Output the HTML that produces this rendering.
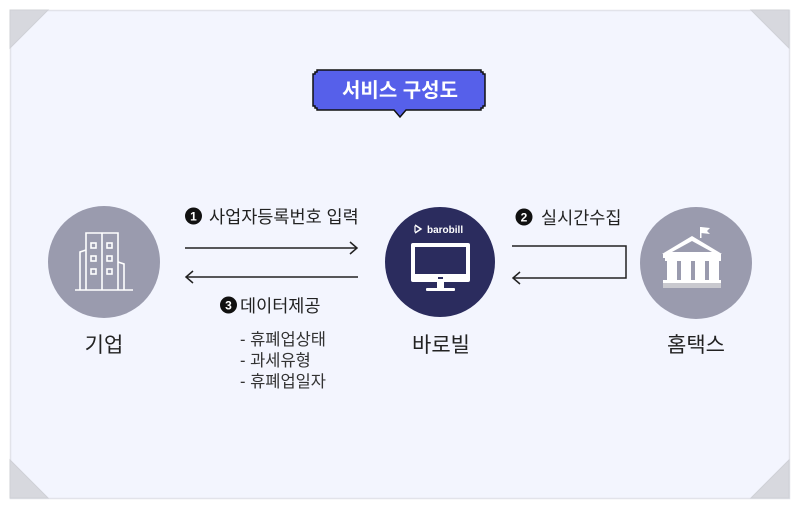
<!DOCTYPE html>
<html><head><meta charset="utf-8"><style>
html,body{margin:0;padding:0;background:#fff;}
svg{display:block;}
text{font-family:"Liberation Sans","Noto Sans CJK KR",sans-serif;}
</style></head><body>
<svg width="800" height="509" viewBox="0 0 800 509" xmlns="http://www.w3.org/2000/svg">
<rect x="0" y="0" width="800" height="509" fill="#ffffff"/>
<rect x="10.5" y="10.5" width="779" height="488" fill="#f3f5fe" stroke="#e2e3ea" stroke-width="1.5"/>
<!-- corners -->
<polygon points="10,10 48,10 10,48" fill="#d7d8de" stroke="#cfd0d6"/>
<polygon points="751,10 789,10 789,48" fill="#d7d8de" stroke="#cfd0d6"/>
<polygon points="10,460 10,498 48,498" fill="#d7d8de" stroke="#cfd0d6"/>
<polygon points="789,460 789,498 751,498" fill="#d7d8de" stroke="#cfd0d6"/>

<!-- title badge -->
<path d="M317,70 H481 V72 H483 V74 H485 V106 H483 V108 H481 V110 H406 L400,117 L394,110 H317 V108 H315 V106 H313 V74 H315 V72 H317 Z" fill="#5660ea" stroke="#111" stroke-width="1.5"/>
<text x="400" y="97" font-size="20" font-weight="bold" fill="#fff" text-anchor="middle">서비스 구성도</text>

<!-- circles -->
<circle cx="104" cy="262" r="56" fill="#9a9bae"/>
<circle cx="440" cy="262" r="55" fill="#2b2c5e"/>
<circle cx="696" cy="263" r="56" fill="#9a9bae"/>

<!-- building icon -->
<g fill="none" stroke="#fff" stroke-width="1.6">
<line x1="75" y1="290" x2="133" y2="290"/>
<polyline points="86,290 86,233 118,233 118,290"/>
<line x1="102" y1="233" x2="102" y2="290"/>
<polyline points="86,250 80,252 80,290"/>
<polyline points="118,262 124,264 124,290"/>
<rect x="91" y="243" width="5" height="5"/>
<rect x="91" y="256" width="5" height="5"/>
<rect x="91" y="269" width="5" height="5"/>
<rect x="107" y="243" width="5" height="5"/>
<rect x="107" y="256" width="5" height="5"/>
<rect x="107" y="269" width="5" height="5"/>
</g>

<!-- barobill icon -->
<text x="427" y="233" font-size="10" font-weight="bold" fill="#fff">barobill</text>
<path d="M415,225 L421,229 L415,233" fill="none" stroke="#fff" stroke-width="1.5"/>
<line x1="415" y1="226" x2="415" y2="232" stroke="#fff" stroke-width="1.2"/>
<rect x="411" y="243" width="59" height="39" rx="2" fill="#fff"/>
<rect x="415" y="247" width="51" height="27" fill="#2b2c5e"/>
<rect x="437" y="282" width="7" height="7" fill="#fff"/>
<rect x="426" y="288" width="29" height="3" rx="1" fill="#fff"/>
<rect x="438" y="277" width="5" height="2" fill="#2b2c5e"/>

<!-- hometax icon -->
<g fill="#fff">
<rect x="700" y="227" width="1.5" height="11"/>
<polygon points="701,227 710,228 707,231 710,234 701,233"/>
<polygon points="692,236 722,254 662,254"/>
<rect x="663" y="254" width="58" height="4"/>
<rect x="665" y="258" width="14" height="3"/>
<rect x="667" y="261" width="10" height="19"/>
<rect x="679" y="258" width="14" height="3"/>
<rect x="681" y="261" width="10" height="19"/>
<rect x="693" y="258" width="14" height="3"/>
<rect x="695" y="261" width="10" height="19"/>
<rect x="707" y="258" width="14" height="3"/>
<rect x="709" y="261" width="10" height="19"/>
<rect x="663" y="280" width="58" height="3"/>
</g>
<polygon points="692,241 712,252 672,252" fill="#9a9bae"/>
<rect x="663" y="283" width="58" height="5" fill="#c9c9cf"/>

<!-- labels -->
<text x="104" y="352" font-size="21" fill="#222" text-anchor="middle">기업</text>
<text x="441" y="352" font-size="21" fill="#222" text-anchor="middle">바로빌</text>
<text x="696" y="352" font-size="21" fill="#222" text-anchor="middle">홈택스</text>

<!-- arrows -->
<g stroke="#222" stroke-width="1.5" fill="none">
<line x1="185" y1="248" x2="357" y2="248"/>
<polyline points="350,242 357,248 350,254"/>
<line x1="186" y1="277" x2="358" y2="277"/>
<polyline points="193,271 186,277 193,283"/>
<polyline points="512,246 626,246 626,278 513,278"/>
<polyline points="520,272 513,278 520,284"/>
</g>

<!-- step labels -->
<circle cx="193.5" cy="216" r="8.5" fill="#111"/>
<text x="193.5" y="220.5" font-size="12" font-weight="bold" fill="#fff" text-anchor="middle">1</text>
<text x="209" y="223" font-size="17.5" fill="#222">사업자등록번호 입력</text>

<circle cx="524" cy="217" r="8.5" fill="#111"/>
<text x="524" y="221.5" font-size="12" font-weight="bold" fill="#fff" text-anchor="middle">2</text>
<text x="541" y="224" font-size="17.5" fill="#222">실시간수집</text>

<circle cx="228.5" cy="305" r="8.5" fill="#111"/>
<text x="228.5" y="309.5" font-size="12" font-weight="bold" fill="#fff" text-anchor="middle">3</text>
<text x="240" y="312" font-size="17.5" fill="#222">데이터제공</text>

<text x="240" y="345" font-size="16.5" fill="#333">- 휴폐업상태</text>
<text x="240" y="366" font-size="16.5" fill="#333">- 과세유형</text>
<text x="240" y="387" font-size="16.5" fill="#333">- 휴폐업일자</text>
</svg>
</body></html>
